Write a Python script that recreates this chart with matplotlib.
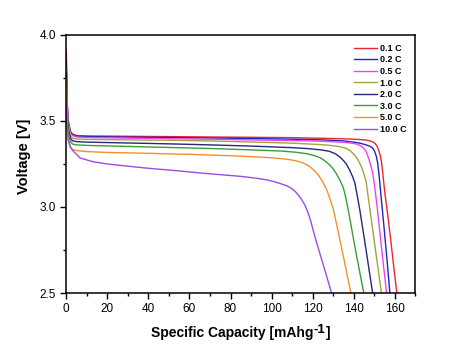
import matplotlib
matplotlib.use('Agg')
import matplotlib.pyplot as plt
from matplotlib.ticker import MultipleLocator
from matplotlib.transforms import offset_copy

plt.rcParams['font.family'] = ['Liberation Sans', 'DejaVu Sans']

# discharge curves: capacity [mAh/g], voltage [V]
labels = ['0.1 C', '0.2 C', '0.5 C', '1.0 C', '2.0 C', '3.0 C', '5.0 C', '10.0 C']
colors = ['#e8262b', '#2323c8', '#ee44ee', '#a5a23c',
          '#26267e', '#3c9c3c', '#f4902c', '#9b4de0']

cap_01 = [0, 0.5, 1, 2, 3, 5, 10, 30, 50, 70, 90, 110, 130, 138, 143, 146,
          148, 149.5, 150.5, 151.5, 152.3, 153, 153.6, 154.2, 154.8, 155.5,
          156.5, 158, 159.5, 161]
volt_01 = [3.91, 3.60, 3.50, 3.44, 3.425, 3.415, 3.413, 3.411, 3.409, 3.407,
           3.405, 3.403, 3.398, 3.395, 3.392, 3.389, 3.384, 3.377, 3.368,
           3.350, 3.325, 3.295, 3.254, 3.19, 3.12, 3.05, 2.96, 2.81, 2.65,
           2.50]

cap_02 = [0, 0.5, 1, 2, 3, 5, 10, 30, 50, 70, 90, 110, 125, 135, 140, 143,
          145.5, 147.5, 149, 150, 151, 151.6, 152.3, 153, 153.8, 155, 156.3,
          157.6]
volt_02 = [3.85, 3.58, 3.49, 3.435, 3.42, 3.412, 3.409, 3.406, 3.404, 3.401,
           3.398, 3.394, 3.390, 3.384, 3.377, 3.371, 3.363, 3.355, 3.345,
           3.328, 3.295, 3.26, 3.19, 3.10, 3.00, 2.85, 2.68, 2.50]

cap_05 = [0, 0.5, 1, 2, 3, 5, 10, 30, 50, 70, 90, 110, 125, 135, 139, 141.4,
          143.5, 145, 146.2, 147.2, 148.2, 149.2, 150.2, 151.3, 152.5, 154.2,
          156]
volt_05 = [3.82, 3.57, 3.48, 3.43, 3.415, 3.407, 3.404, 3.400, 3.397, 3.394,
           3.390, 3.386, 3.382, 3.376, 3.371, 3.366, 3.355, 3.34, 3.318,
           3.285, 3.245, 3.20, 3.12, 3.01, 2.88, 2.69, 2.50]

cap_10 = [0, 0.5, 1, 2, 3, 5, 10, 30, 50, 70, 90, 110, 125, 130, 133.5,
          136.5, 138.5, 140, 141.5, 142.8, 144, 145, 146, 146.9, 147.9, 150.7,
          153.5]
volt_10 = [3.80, 3.55, 3.465, 3.415, 3.40, 3.395, 3.393, 3.390, 3.388,
           3.384, 3.378, 3.371, 3.362, 3.356, 3.350, 3.340, 3.325, 3.307,
           3.285, 3.258, 3.225, 3.19, 3.15, 3.07, 2.985, 2.74, 2.50]

cap_20 = [0, 0.5, 1, 2, 3, 5, 10, 30, 50, 70, 90, 110, 118, 124, 128, 131,
          133.3, 135, 136.5, 138, 139.5, 140.6, 141.8, 143, 146, 149.2]
volt_20 = [3.78, 3.53, 3.45, 3.40, 3.385, 3.38, 3.377, 3.372, 3.367, 3.361,
           3.354, 3.345, 3.339, 3.332, 3.324, 3.31, 3.29, 3.27, 3.248, 3.215,
           3.175, 3.137, 3.06, 2.98, 2.75, 2.50]

cap_30 = [0, 0.5, 1, 2, 3, 5, 10, 30, 50, 70, 90, 105, 112, 117, 120.5,
          123.5, 126, 128.2, 130, 131.7, 133.3, 134.9, 136.2, 137.3, 141,
          144.9]
volt_30 = [3.75, 3.50, 3.43, 3.38, 3.366, 3.361, 3.358, 3.352, 3.346,
           3.340, 3.332, 3.325, 3.318, 3.31, 3.30, 3.287, 3.268, 3.245,
           3.222, 3.19, 3.155, 3.113, 3.05, 2.985, 2.74, 2.50]

cap_50 = [0, 0.5, 1, 2, 3, 5, 10, 20, 40, 60, 80, 95, 103, 108, 112, 115,
          118, 120.5, 122.8, 125, 127, 128.5, 130, 132, 135, 138.6]
volt_50 = [3.72, 3.45, 3.38, 3.345, 3.335, 3.328, 3.322, 3.317, 3.312,
           3.306, 3.298, 3.290, 3.283, 3.277, 3.268, 3.257, 3.24, 3.215,
           3.185, 3.145, 3.095, 3.045, 2.99, 2.88, 2.71, 2.50]

cap_100 = [0, 0.5, 1, 2, 3, 4.2, 6.7, 13, 20, 29.4, 40, 53.7, 65, 75, 85,
           92, 97.6, 101, 104, 107, 109.5, 111.5, 113, 114.5, 116, 117.5,
           119, 121.5, 125, 129.2]
volt_100 = [3.62, 3.45, 3.39, 3.35, 3.33, 3.315, 3.285, 3.263, 3.25, 3.238,
            3.225, 3.211, 3.198, 3.188, 3.178, 3.168, 3.158, 3.148, 3.137,
            3.125, 3.11, 3.09, 3.07, 3.045, 3.015, 2.975, 2.92, 2.81, 2.67,
            2.50]

capacities = [cap_01, cap_02, cap_05, cap_10, cap_20, cap_30, cap_50, cap_100]
voltages = [volt_01, volt_02, volt_05, volt_10, volt_20, volt_30, volt_50, volt_100]

fig = plt.figure(figsize=(4.62, 3.64), dpi=100)
ax = fig.add_axes([0.1435, 0.195, 0.7555, 0.709])

for cap, volt, lab, col in zip(capacities, voltages, labels, colors):
    ax.plot(cap, volt, color=col, lw=1.0, label=lab)

ax.set_xlim(0, 170)
ax.set_ylim(2.5, 4.0)
ax.xaxis.set_major_locator(MultipleLocator(20))
ax.xaxis.set_minor_locator(MultipleLocator(10))
ax.yaxis.set_major_locator(MultipleLocator(0.5))
ax.yaxis.set_minor_locator(MultipleLocator(0.25))
ax.tick_params(which='major', direction='out', length=4, width=1, labelsize=8.5)
ax.tick_params(which='minor', direction='out', length=2.5, width=1)
for sp in ax.spines.values():
    sp.set_linewidth(1.1)

# y label
fig.text(0.053, 0.571, 'Voltage [V]', rotation=90, ha='center', va='center',
         fontsize=10.5, fontweight='bold')

# x label built from pieces so the superscript can be big
renderer = fig.canvas.get_renderer()
part1 = fig.text(0, 0.074, 'Specific Capacity [mAhg', fontsize=10,
                 fontweight='bold', va='baseline')
w1 = part1.get_window_extent(renderer).width
sup = fig.text(0, 0.074, '-1', fontsize=9.5, fontweight='bold', va='baseline')
w2 = sup.get_window_extent(renderer).width
part3 = fig.text(0, 0.074, ']', fontsize=10, fontweight='bold', va='baseline')
w3 = part3.get_window_extent(renderer).width
total = w1 + w2 + w3
x0 = 240.5 - total / 2
part1.set_x(x0 / 462)
sup.set_x((x0 + w1) / 462)
sup.set_y(0.074 + 4.5 / 364)
part3.set_x((x0 + w1 + w2) / 462)

leg = ax.legend(loc='upper right', frameon=False, fontsize=6.5,
                handlelength=2.6, handletextpad=0.3, labelspacing=0.28,
                borderaxespad=0.6)
for t in leg.get_texts():
    t.set_fontweight('bold')

fig.savefig('out.png', dpi=100)
